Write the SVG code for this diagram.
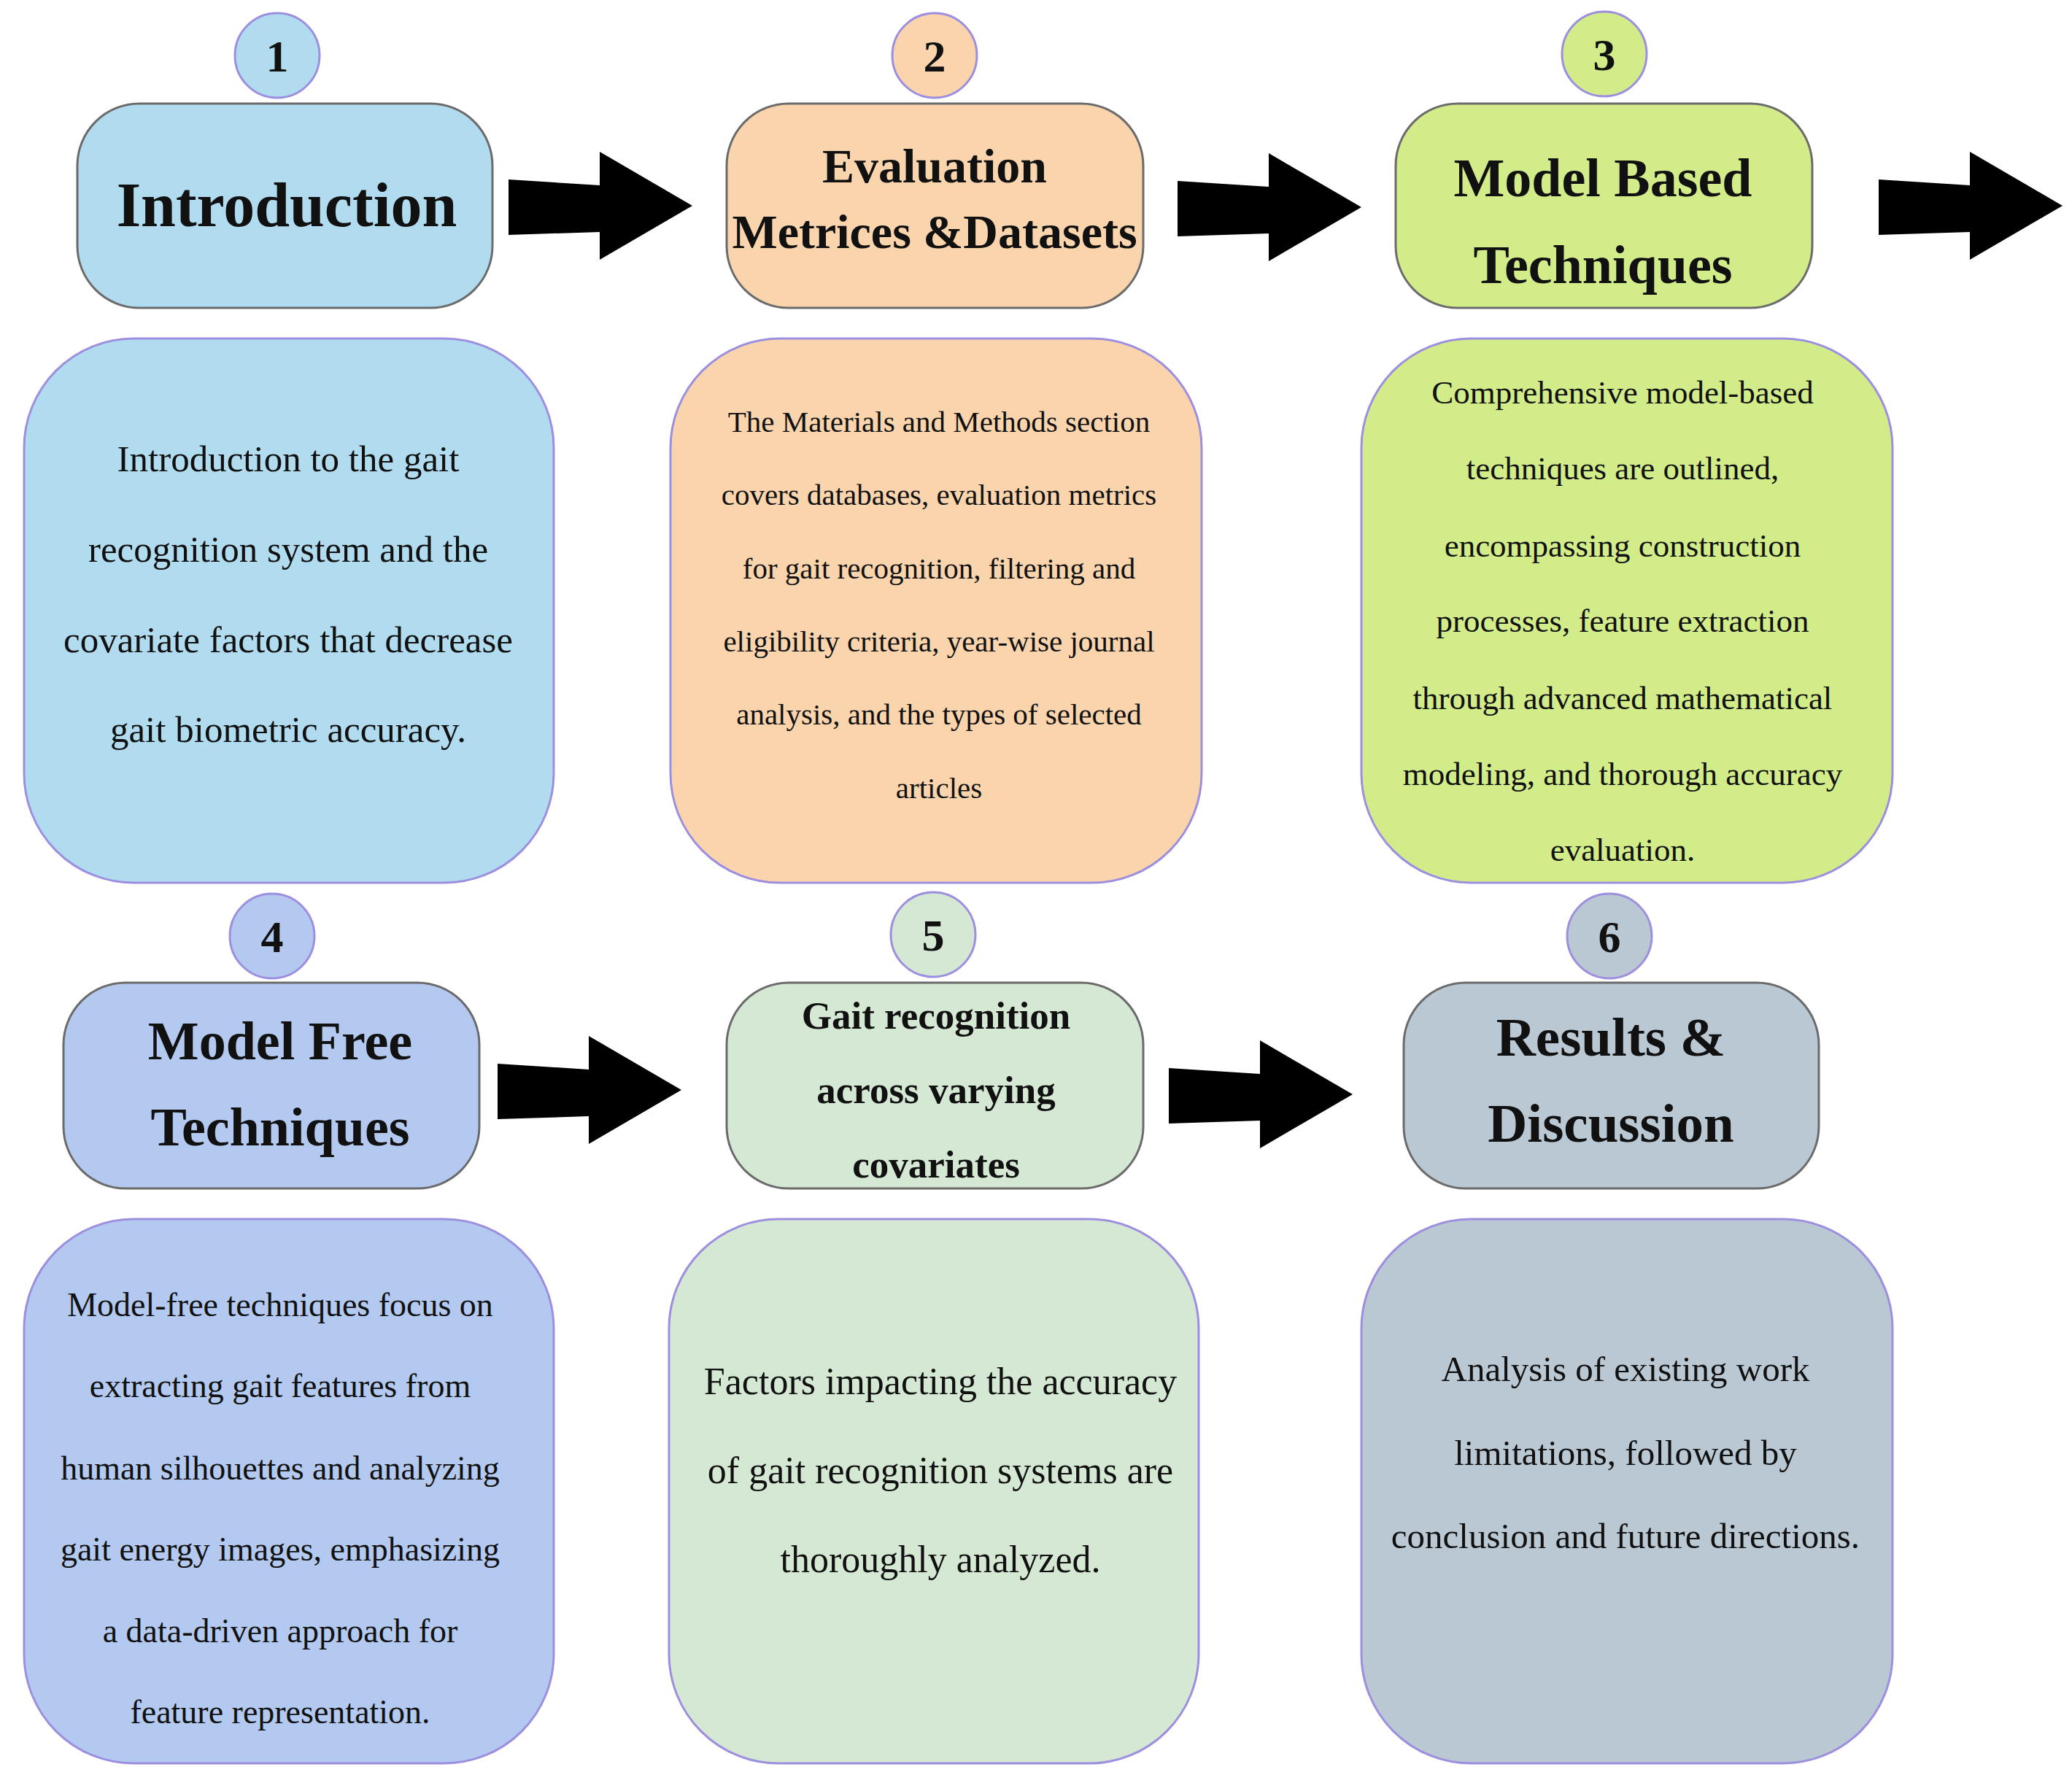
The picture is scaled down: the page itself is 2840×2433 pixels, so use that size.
<svg xmlns="http://www.w3.org/2000/svg" xmlns:xlink="http://www.w3.org/1999/xlink" width="2840" height="2433" viewBox="0 0 2840 2433">
<style>
.hd{stroke:#6b6b6b;stroke-width:3}
.ds{stroke:#9d8fe0;stroke-width:3}
.cr{stroke:#9d8fe0;stroke-width:3}
.t{font-family:"Liberation Serif",serif;fill:#111;text-anchor:middle}
.b{font-weight:bold}
.n{font-family:"Liberation Serif",serif;font-weight:bold;font-size:62px;fill:#111;text-anchor:middle}
</style>
<defs>
<path id="arr" d="M0,-36 L125,-28 L125,-74 L252,0 L125,74 L125,36 L0,40 Z" fill="#000"/>
</defs>
<rect width="2840" height="2433" fill="#fff"/>
<g id="connectors">
<use xlink:href="#arr" x="697" y="282"/>
<use xlink:href="#arr" x="1614" y="284"/>
<use xlink:href="#arr" x="2575" y="282"/>
<use xlink:href="#arr" x="682" y="1494"/>
<use xlink:href="#arr" x="1602" y="1500"/>
</g>
<g id="n1">
<circle class="cr" cx="380" cy="76" r="58" fill="#b1dcf0"/><text class="n" x="380" y="98">1</text>
<rect class="hd" x="106" y="142" width="569" height="280" rx="85" fill="#b1dcf0"/>
<text class="t b" x="393" y="310" font-size="86">Introduction</text>
<rect class="ds" x="33" y="464" width="726" height="746" rx="150" fill="#b1dcf0"/>
<text class="t" font-size="51" x="395"><tspan x="395" y="646">Introduction to the gait</tspan><tspan x="395" y="770">recognition system and the</tspan><tspan x="395" y="894">covariate factors that decrease</tspan><tspan x="395" y="1017">gait biometric accuracy.</tspan></text>
</g>
<g id="n2">
<circle class="cr" cx="1281" cy="76" r="58" fill="#f9d4ac"/><text class="n" x="1281" y="98">2</text>
<rect class="hd" x="996" y="142" width="571" height="280" rx="85" fill="#f9d4ac"/>
<text class="t b" font-size="66"><tspan x="1281" y="250">Evaluation</tspan><tspan x="1281" y="340">Metrices &amp;Datasets</tspan></text>
<rect class="ds" x="919" y="464" width="728" height="746" rx="150" fill="#f9d4ac"/>
<text class="t" font-size="41"><tspan x="1287" y="592">The Materials and Methods section</tspan><tspan x="1287" y="692">covers databases, evaluation metrics</tspan><tspan x="1287" y="793">for gait recognition, filtering and</tspan><tspan x="1287" y="893">eligibility criteria, year-wise journal</tspan><tspan x="1287" y="993">analysis, and the types of selected</tspan><tspan x="1287" y="1094">articles</tspan></text>
</g>
<g id="n3">
<circle class="cr" cx="2199" cy="74" r="58" fill="#d2ec8a"/><text class="n" x="2199" y="96">3</text>
<rect class="hd" x="1913" y="142" width="571" height="280" rx="85" fill="#d2ec8a"/>
<text class="t b" font-size="74"><tspan x="2197" y="269">Model Based</tspan><tspan x="2197" y="388">Techniques</tspan></text>
<rect class="ds" x="1866" y="464" width="728" height="746" rx="150" fill="#d2ec8a"/>
<text class="t" font-size="45"><tspan x="2224" y="553">Comprehensive model-based</tspan><tspan x="2224" y="657">techniques are outlined,</tspan><tspan x="2224" y="763">encompassing construction</tspan><tspan x="2224" y="866">processes, feature extraction</tspan><tspan x="2224" y="972">through advanced mathematical</tspan><tspan x="2224" y="1076">modeling, and thorough accuracy</tspan><tspan x="2224" y="1180">evaluation.</tspan></text>
</g>
<g id="n4">
<circle class="cr" cx="373" cy="1283" r="58" fill="#b3c9ef"/><text class="n" x="373" y="1305">4</text>
<rect class="hd" x="87" y="1347" width="570" height="282" rx="85" fill="#b3c9ef"/>
<text class="t b" font-size="74"><tspan x="384" y="1452">Model Free</tspan><tspan x="384" y="1570">Techniques</tspan></text>
<rect class="ds" x="33" y="1671" width="726" height="746" rx="150" fill="#b3c9ef"/>
<text class="t" font-size="46"><tspan x="384" y="1804">Model-free techniques focus on</tspan><tspan x="384" y="1915">extracting gait features from</tspan><tspan x="384" y="2028">human silhouettes and analyzing</tspan><tspan x="384" y="2139">gait energy images, emphasizing</tspan><tspan x="384" y="2251">a data-driven approach for</tspan><tspan x="384" y="2362">feature representation.</tspan></text>
</g>
<g id="n5">
<circle class="cr" cx="1279" cy="1281" r="58" fill="#d5e8d4"/><text class="n" x="1279" y="1303">5</text>
<rect class="hd" x="996" y="1347" width="571" height="282" rx="85" fill="#d5e8d4"/>
<text class="t b" font-size="53"><tspan x="1283" y="1410">Gait recognition</tspan><tspan x="1283" y="1512">across varying</tspan><tspan x="1283" y="1614">covariates</tspan></text>
<rect class="ds" x="917" y="1671" width="726" height="746" rx="150" fill="#d5e8d4"/>
<text class="t" font-size="52"><tspan x="1289" y="1911">Factors impacting the accuracy</tspan><tspan x="1289" y="2033">of gait recognition systems are</tspan><tspan x="1289" y="2155">thoroughly analyzed.</tspan></text>
</g>
<g id="n6">
<circle class="cr" cx="2206" cy="1283" r="58" fill="#bac8d3"/><text class="n" x="2206" y="1305">6</text>
<rect class="hd" x="1924" y="1347" width="569" height="282" rx="85" fill="#bac8d3"/>
<text class="t b" font-size="75"><tspan x="2208" y="1447">Results &amp;</tspan><tspan x="2208" y="1565">Discussion</tspan></text>
<rect class="ds" x="1866" y="1671" width="728" height="746" rx="150" fill="#bac8d3"/>
<text class="t" font-size="49"><tspan x="2228" y="1893">Analysis of existing work</tspan><tspan x="2228" y="2008">limitations, followed by</tspan><tspan x="2228" y="2122">conclusion and future directions.</tspan></text>
</g>
</svg>
